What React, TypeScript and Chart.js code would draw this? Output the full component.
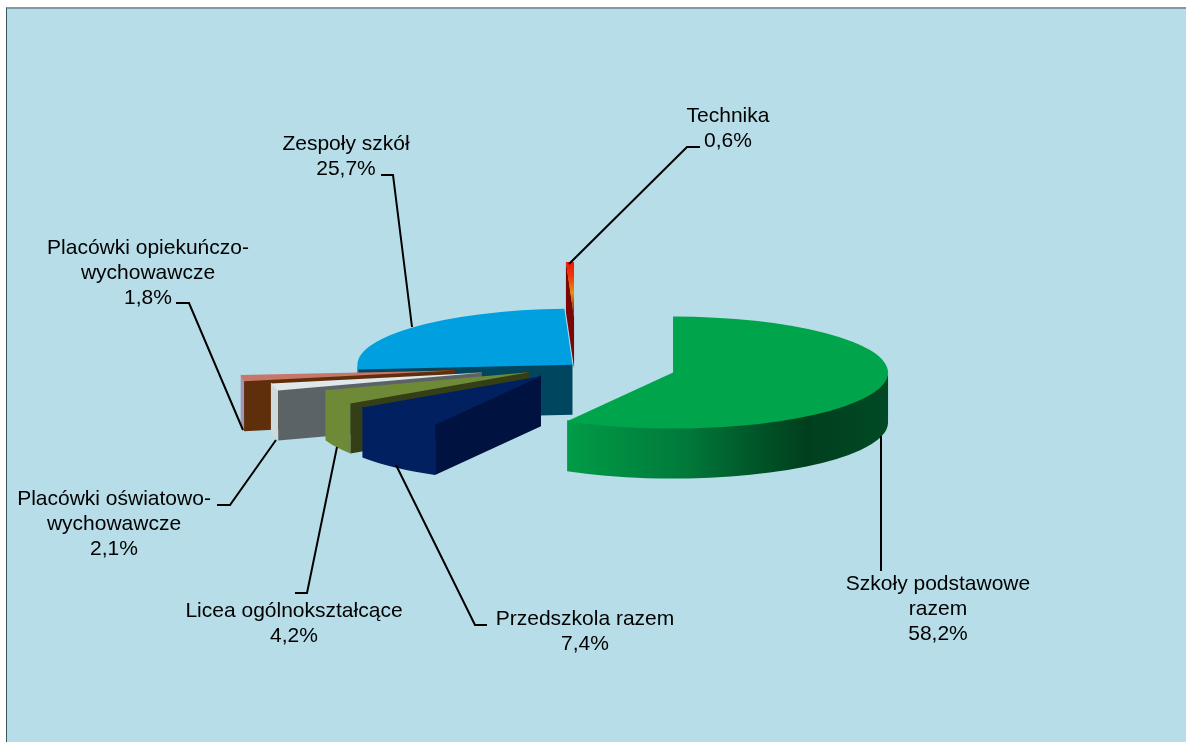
import React, { useEffect, useRef } from "react";
import { Chart, registerables } from "chart.js";

Chart.register(...registerables);

// ---- data ----
const categories = [
  "Szkoły podstawowe razem",
  "Przedszkola razem",
  "Licea ogólnokształcące",
  "Placówki oświatowo-wychowawcze",
  "Placówki opiekuńczo-wychowawcze",
  "Zespoły szkół",
  "Technika",
];
const shares = [58.2, 7.4, 4.2, 2.1, 1.8, 25.7, 0.6];
const wrappedNames = [
  ["Szkoły podstawowe", "razem"],
  ["Przedszkola razem"],
  ["Licea ogólnokształcące"],
  ["Placówki oświatowo-", "wychowawcze"],
  ["Placówki opiekuńczo-", "wychowawcze"],
  ["Zespoły szkół"],
  ["Technika"],
];

// ---- styles ----
const topColors = ["#00a44b", "#002060", "#6f8a37", "#dfe8ea", "#c8766a", "#00a0e0", "#e8200c"];
const cutColors = ["#00a44b", "#001240", "#343f17", "#5c6367", "#5f2e0a", "#00465f", "#7a0606"];
const wallColors = ["", "#002060", "#6f8a37", "#ced9dc", "#a295b4", "#00465f", "#7a0606"];
const greenWallStops: [number, string][] = [
  [0, "#009c47"],
  [0.37, "#00793a"],
  [0.6, "#005427"],
  [0.75, "#003f1e"],
  [1, "#004a25"],
];
const explodeBy = [98.8, 53.7, 54, 99, 123.7, 6.7, 184];
const paintOrder = [5, 6, 4, 3, 2, 1, 0];
const squash = 0.2605;
const wallDepth = 50;
const pieRadius = 215;

// label layout: centre x, first baseline, leader polyline
const labelPlace = [
  { x: 938, y: 590, leader: [[881, 571], [881, 436]] },
  { x: 585, y: 625, leader: [[487, 625], [475, 625], [396, 465]] },
  { x: 294, y: 617, leader: [[295, 593], [307, 593], [337, 447]] },
  { x: 114, y: 505, leader: [[217, 505], [230, 505], [276, 440]] },
  { x: 148, y: 254, leader: [[176, 303], [189, 303], [243, 430]] },
  { x: 346, y: 150, leader: [[381, 175], [393, 175], [412, 327]] },
  { x: 728, y: 122, leader: [[700, 147], [687, 147], [569, 264]] },
];
const lineGap = 25;

const pie3d = {
  id: "pie3d",
  beforeDatasetsDraw(chart: any) {
    const ctx = chart.ctx;
    const arcs = chart.getDatasetMeta(0).data;
    for (const i of paintOrder) {
      const arc = arcs[i];
      const { x, y, startAngle: s, endAngle: e, outerRadius: R } = arc;
      const mid = (s + e) / 2;
      const ox = x + Math.cos(mid) * explodeBy[i];
      const oy = y + Math.sin(mid) * explodeBy[i] * squash;
      const ry = R * squash;
      const cut = (a: number) => {
        const px = ox + Math.cos(a) * R;
        const py = oy + Math.sin(a) * ry;
        ctx.beginPath();
        ctx.moveTo(ox, oy - 1);
        ctx.lineTo(px, py - 1);
        ctx.lineTo(px, py + wallDepth);
        ctx.lineTo(ox, oy + wallDepth);
        ctx.closePath();
        ctx.fillStyle = cutColors[i];
        ctx.fill();
      };
      const a0 = Math.max(s, 0);
      const a1 = Math.min(e, Math.PI);
      if (a1 > a0) {
        ctx.beginPath();
        ctx.ellipse(ox, oy - 1, R, ry, 0, a0, a1);
        ctx.ellipse(ox, oy + wallDepth, R, ry, 0, a1, a0, true);
        ctx.closePath();
        if (i === 0) {
          const g = ctx.createLinearGradient(ox + Math.cos(a1) * R, 0, ox + R, 0);
          greenWallStops.forEach(([p, c]) => g.addColorStop(p, c));
          ctx.fillStyle = g;
        } else {
          ctx.fillStyle = wallColors[i];
        }
        ctx.fill();
      }
      if (Math.cos(s) < -1e-6) cut(s);
      if (Math.cos(e) > 1e-6) cut(e);
      ctx.save();
      ctx.translate(ox, oy);
      ctx.scale(1, squash);
      ctx.translate(-x, -y);
      arc.draw(ctx);
      ctx.restore();
    }
    return false;
  },
  afterDraw(chart: any) {
    const ctx = chart.ctx;
    ctx.save();
    ctx.strokeStyle = "#000";
    ctx.lineWidth = 2;
    ctx.lineJoin = "miter";
    labelPlace.forEach((p) => {
      ctx.beginPath();
      p.leader.forEach(([lx, ly], k) => (k ? ctx.lineTo(lx, ly) : ctx.moveTo(lx, ly)));
      ctx.stroke();
    });
    ctx.fillStyle = "#000";
    ctx.font = '21px "Liberation Sans"';
    ctx.textAlign = "center";
    ctx.textBaseline = "alphabetic";
    categories.forEach((_, i) => {
      const lines = [...wrappedNames[i], shares[i].toFixed(1).replace(".", ",") + "%"];
      lines.forEach((t, k) => ctx.fillText(t, labelPlace[i].x, labelPlace[i].y + k * lineGap));
    });
    ctx.restore();
  },
};

export default function App() {
  const ref = useRef<HTMLCanvasElement>(null);
  useEffect(() => {
    const chart = new Chart(ref.current as HTMLCanvasElement, {
      type: "pie",
      data: {
        labels: categories,
        datasets: [
          {
            data: shares,
            borderWidth: 0,
            backgroundColor: (c: any) => {
              if (c.dataIndex !== 6 || !c.chart.chartArea) return topColors[c.dataIndex];
              const a = c.chart.chartArea;
              const cy = (a.top + a.bottom) / 2;
              const g = c.chart.ctx.createLinearGradient(0, cy - pieRadius, 0, cy);
              g.addColorStop(0, "#ee1808");
              g.addColorStop(0.25, "#f03808");
              g.addColorStop(0.55, "#e89010");
              g.addColorStop(1, "#7a0606");
              return g;
            },
          },
        ],
      },
      options: {
        animation: false,
        responsive: false,
        events: [],
        radius: pieRadius,
        layout: { padding: { left: 0, top: 0, right: 31, bottom: 10 } },
        plugins: { legend: { display: false }, tooltip: { enabled: false } },
      } as any,
      plugins: [pie3d as any],
    });
    return () => chart.destroy();
  }, []);
  return (
    <div style={{ position: "fixed", left: 0, top: 0, width: 1186, height: 742, background: "#fff", overflow: "hidden" }}>
      <div
        style={{
          position: "absolute",
          left: 6,
          top: 7,
          right: 0,
          bottom: 0,
          background: "#b7dde8",
          borderTop: "2px solid #7f9aa0",
          borderLeft: "1px solid #3a5560",
        }}
      />
      <canvas ref={ref} width={1186} height={742} style={{ position: "absolute", left: 0, top: 0, display: "block" }} />
    </div>
  );
}
